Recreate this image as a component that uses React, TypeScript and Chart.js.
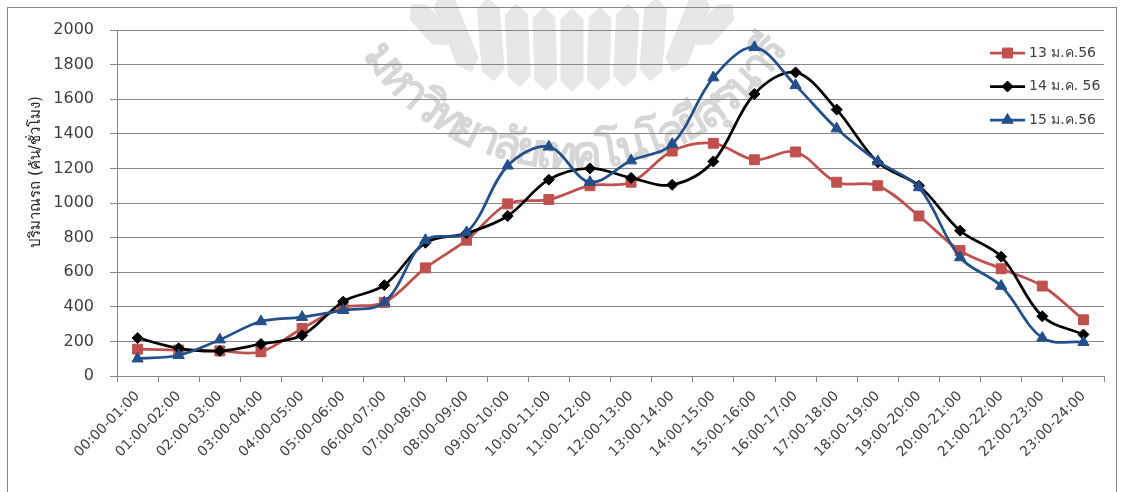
import React, { useEffect, useRef } from 'react';
import { Chart, registerables } from 'chart.js';
import { drawPoint } from 'chart.js/helpers';

Chart.register(...registerables);

// Hourly time slots on the x axis
const HOURS = [
  '00:00-01:00', '01:00-02:00', '02:00-03:00', '03:00-04:00', '04:00-05:00', '05:00-06:00',
  '06:00-07:00', '07:00-08:00', '08:00-09:00', '09:00-10:00', '10:00-11:00', '11:00-12:00',
  '12:00-13:00', '13:00-14:00', '14:00-15:00', '15:00-16:00', '16:00-17:00', '17:00-18:00',
  '18:00-19:00', '19:00-20:00', '20:00-21:00', '21:00-22:00', '22:00-23:00', '23:00-24:00',
];

// Traffic volume (vehicles / hour) per day
const JAN_13 = [155, 150, 145, 140, 275, 395, 425, 625, 785, 995, 1020, 1100, 1120, 1300, 1345, 1250, 1295, 1120, 1100, 925, 725, 620, 520, 325];
const JAN_14 = [220, 160, 145, 185, 235, 430, 525, 770, 825, 925, 1135, 1200, 1145, 1105, 1240, 1630, 1755, 1540, 1235, 1100, 840, 690, 345, 240];
const JAN_15 = [100, 120, 210, 315, 340, 380, 425, 785, 830, 1215, 1325, 1120, 1245, 1340, 1725, 1900, 1680, 1430, 1240, 1090, 685, 520, 220, 195];

const SERIES_LABELS = ['13 ม.ค.56', '14 ม.ค. 56', '15 ม.ค.56'];
const Y_MIN = 0;
const Y_MAX = 2000;
const Y_STEP = 200;
const Y_TITLE = 'ปริมาณรถ (คัน/ชั่วโมง)';
const SEAL_TEXT = 'มหาวิทยาลัยเทคโนโลยีสุรนารี';

const FONT = 'Tahoma, "DejaVu Sans", "Noto Sans", sans-serif';
const GRID = '#868686';

// Split Thai text into base characters with their attached marks
function thaiClusters(s: string): string[] {
  const out: string[] = [];
  for (const ch of s) {
    const c = ch.codePointAt(0) || 0;
    const mark = c === 0x0e31 || (c >= 0x0e34 && c <= 0x0e3a) || (c >= 0x0e47 && c <= 0x0e4e);
    if (mark && out.length) out[out.length - 1] += ch;
    else out.push(ch);
  }
  return out;
}

// One pointed strip of the seal: bottom tip (bx, by), tilt in degrees, length
function strip(ctx: CanvasRenderingContext2D, bx: number, by: number, tilt: number, len: number) {
  const a = (tilt * Math.PI) / 180;
  const ux = Math.sin(a), uy = -Math.cos(a);
  const nx = Math.cos(a), ny = Math.sin(a);
  const w = 11.5, t = 11;
  const pt = (d: number, s: number) => [bx + ux * d + nx * s, by + uy * d + ny * s];
  const pts = [pt(0, 0), pt(t, -w), pt(len - t, -w), pt(len, 0), pt(len - t, w), pt(t, w)];
  ctx.beginPath();
  pts.forEach(([x, y], i) => (i ? ctx.lineTo(x, y) : ctx.moveTo(x, y)));
  ctx.closePath();
  ctx.fill();
}

// Faint university seal behind the plot
const sealPlugin = {
  id: 'seal',
  beforeDraw(chart: any) {
    const ctx = chart.ctx as CanvasRenderingContext2D;
    ctx.save();
    const cx = 572;
    ctx.fillStyle = '#e7e7e7';
    for (let k = -3; k <= 3; k++) strip(ctx, cx + 26 * k, 92 - 1.2 * k * k, 1.5 * k, 84);
    for (const side of [-1, 1]) {
      strip(ctx, cx + side * 100, 72, side * 22, 85);
      strip(ctx, cx + side * 124, 45, side * 42, 55);
    }
    // university name around the lower arc
    const tx = 573, ty = -83, r = 240;
    const a0 = (147 * Math.PI) / 180, a1 = (31 * Math.PI) / 180;
    const arcLen = r * (a0 - a1);
    ctx.font = `bold 46px ${FONT}`;
    ctx.fillStyle = '#d6d6d6';
    ctx.textAlign = 'center';
    ctx.textBaseline = 'middle';
    const parts = thaiClusters(SEAL_TEXT);
    const widths = parts.map((t) => ctx.measureText(t).width);
    const total = widths.reduce((s, w) => s + w, 0);
    const gap = parts.length > 1 ? (arcLen - total) / (parts.length - 1) : 0;
    let s = 0;
    parts.forEach((t, i) => {
      const mid = s + widths[i] / 2;
      const th = a0 - mid / r;
      ctx.save();
      ctx.translate(tx + r * Math.cos(th), ty + r * Math.sin(th));
      ctx.rotate(th - Math.PI / 2);
      ctx.fillText(t, 0, 0);
      ctx.restore();
      s += widths[i] + gap;
    });
    ctx.restore();
  },
};

// Frame, rotated y title and in-plot legend
const decorPlugin = {
  id: 'decor',
  afterDraw(chart: any) {
    const ctx = chart.ctx as CanvasRenderingContext2D;
    const area = chart.chartArea;
    ctx.save();
    ctx.strokeStyle = GRID;
    ctx.lineWidth = 1;
    ctx.strokeRect(7.5, 7.5, chart.width - 15, chart.height - 3);

    ctx.fillStyle = '#262626';
    ctx.font = `15px ${FONT}`;
    ctx.textAlign = 'center';
    ctx.textBaseline = 'middle';
    ctx.translate(36, 172);
    ctx.rotate(-Math.PI / 2);
    ctx.fillText(Y_TITLE, 0, 0);
    ctx.restore();

    ctx.save();
    const x0 = area.right - 114;
    const x1 = area.right - 79;
    const ys = [area.top + 23, area.top + 56.5, area.top + 90];
    chart.data.datasets.forEach((ds: any, i: number) => {
      const y = ys[i];
      ctx.strokeStyle = ds.borderColor;
      ctx.lineWidth = ds.borderWidth;
      ctx.beginPath();
      ctx.moveTo(x0, y);
      ctx.lineTo(x1, y);
      ctx.stroke();
      ctx.fillStyle = ds.backgroundColor;
      ctx.lineWidth = 1;
      drawPoint(ctx, { pointStyle: ds.pointStyle, radius: ds.pointRadius, rotation: 0, borderWidth: 1 } as any, (x0 + x1) / 2, y);
      ctx.fillStyle = '#404040';
      ctx.font = `14px ${FONT}`;
      ctx.textAlign = 'left';
      ctx.textBaseline = 'middle';
      ctx.fillText(ds.label, x1 + 4, y);
    });
    ctx.restore();
  },
};

export default function App() {
  const ref = useRef<HTMLCanvasElement | null>(null);

  useEffect(() => {
    if (!ref.current) return;
    const line = (label: string, data: number[], color: string, style: string, radius: number, order: number) => ({
      label,
      data,
      borderColor: color,
      backgroundColor: color,
      pointBackgroundColor: color,
      pointBorderColor: color,
      pointStyle: style,
      pointRadius: radius,
      pointBorderWidth: 1,
      borderWidth: 2.75,
      tension: 0.35,
      fill: false,
      order,
    });

    const chart = new Chart(ref.current, {
      type: 'line',
      data: {
        labels: HOURS,
        datasets: [
          line(SERIES_LABELS[0], JAN_13, '#C0504D', 'rect', 7, 3),
          line(SERIES_LABELS[1], JAN_14, '#000000', 'rectRot', 5.5, 2),
          line(SERIES_LABELS[2], JAN_15, '#23508A', 'triangle', 6.5, 1),
        ],
      },
      options: {
        animation: false,
        responsive: false,
        devicePixelRatio: 1,
        layout: { padding: { left: 0, top: 30, right: 20, bottom: 0 } },
        plugins: { legend: { display: false }, tooltip: { enabled: false }, title: { display: false } },
        scales: {
          x: {
            offset: true,
            grid: { display: true, drawOnChartArea: false, offset: true, tickLength: 6, color: GRID },
            border: { display: true, color: GRID, width: 1 },
            ticks: {
              autoSkip: false,
              minRotation: 45,
              maxRotation: 45,
              padding: 6,
              color: '#404040',
              font: { family: FONT, size: 14 },
            },
            afterFit: (scale: any) => { scale.height = 116; },
          },
          y: {
            min: Y_MIN,
            max: Y_MAX,
            grid: { color: GRID, tickLength: 7, lineWidth: 1 },
            border: { display: true, color: GRID, width: 1 },
            ticks: {
              stepSize: Y_STEP,
              padding: 16,
              color: '#404040',
              font: { family: FONT, size: 16 },
              callback: (v: any) => String(v),
            },
            afterFit: (scale: any) => { scale.width = 117; },
          },
        },
      },
      plugins: [sealPlugin, decorPlugin],
    } as any);
    return () => chart.destroy();
  }, []);

  return (
    <div style={{ position: 'absolute', left: 0, top: 0, width: 1124, height: 492, background: '#fff' }}>
      <canvas ref={ref} width={1124} height={492} />
    </div>
  );
}
